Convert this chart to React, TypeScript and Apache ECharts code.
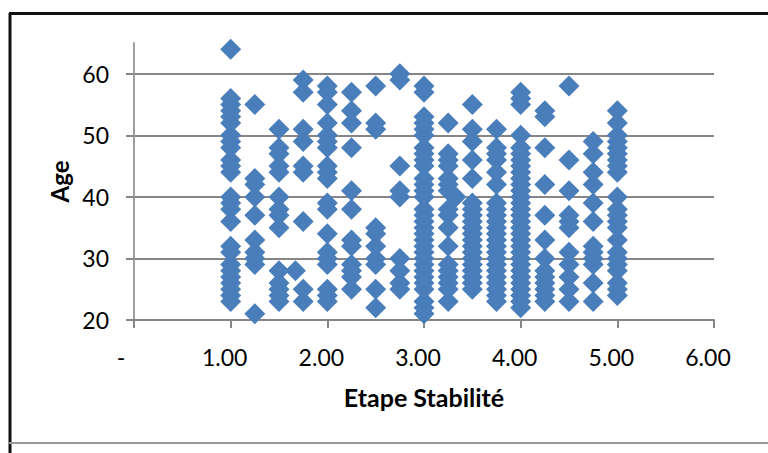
import React, { useEffect, useRef } from "react";
import * as echarts from "echarts";

const col100 = [64,56,55,54,53,52,50,49,48,46,45,44,40,39,38,36,32,31,29,28,27,26,25,24,23];
const col125 = [55,43,42,40,37,33,31,30,29,21];
const col150 = [51,48,47,45,44,40,38,37,35,28,26,25,24,23];
const col167 = [28];
const col175 = [59,57,51,49,45,44,36,25,23];
const col200 = [58,57,55,52,50,49,48,45,44,43,39,38,34,31,30,29,25,24,23];
const col225 = [57,54,52,48,41,38,33,32,29,28,27,25];
const col250 = [58,52,51,35,34,32,30,29,25,22];
const col275 = [60,59,45,41,40,30,28,26,25];
const col300 = [58,57,53,52,51,50,48,47,46,45,43,42,41,40,38,37,36,35,34,33,32,31,30,29,28,27,26,25,23,22,21];
const col325 = [52,47,46,45,43,42,41,38,37,35,32,29,28,27,26,25,23];
const col333 = [40];
const col350 = [55,51,49,46,43,39,38,37,36,35,34,33,32,31,30,29,28,27,26,25];
const col375 = [51,48,47,46,44,42,39,38,37,36,35,34,33,32,31,30,29,28,27,26,25,24,23];
const col400 = [57,56,55,50,48,47,46,45,44,43,42,41,40,39,38,37,36,35,34,33,32,31,30,29,28,27,26,25,24,23,22];
const col425 = [54,53,48,42,37,33,30,28,27,26,25,24,23];
const col450 = [58,46,41,37,36,35,31,29,27,25,23];
const col475 = [49,47,44,42,39,36,32,31,30,29,26,23];
const col500 = [54,52,50,49,48,47,46,45,44,40,38,37,36,35,33,31,30,29,28,26,25,24];
const yTicks = [20,30,40,50,60];

const columns: [number, number[]][] = [
  [1, col100],[1.25, col125],[1.5, col150],[1.67, col167],[1.75, col175],[2, col200],[2.25, col225],
  [2.5, col250],[2.75, col275],[3, col300],[3.25, col325],[3.33, col333],[3.5, col350],[3.75, col375],
  [4, col400],[4.25, col425],[4.5, col450],[4.75, col475],[5, col500],
];
const points = columns.flatMap(([x, ys]) => ys.map((y) => [x, y]));

const FONT = "Lato, 'Noto Sans', sans-serif";

export default function App() {
  const ref = useRef<HTMLDivElement>(null);
  useEffect(() => {
    const chart = echarts.init(ref.current!, null, { renderer: "svg" });
    chart.setOption({
      animation: false,
      backgroundColor: "#fff",
      grid: { left: 134, right: 54, top: 43, bottom: 133, containLabel: false },
      xAxis: {
        type: "value", min: 0, max: 6, interval: 1,
        name: "Etape Stabilité", nameLocation: "middle", nameGap: 64,
        nameTextStyle: { fontFamily: FONT, fontSize: 25, fontWeight: "bold", color: "#000" },
        axisLine: { show: true, onZero: false, lineStyle: { color: "#868686", width: 2 } },
        axisTick: { show: true, length: 8, lineStyle: { color: "#868686", width: 2 } },
        axisLabel: {
          fontFamily: FONT, fontSize: 23, color: "#000", margin: 25,
          formatter: (v: number) => (v === 0 ? "{dash|-}" : "{num|" + v.toFixed(2) + "}"),
          rich: {
            dash: { fontFamily: FONT, fontSize: 23, color: "#000", padding: [0, 26, 0, 0] },
            num: { fontFamily: FONT, fontSize: 23, color: "#000", padding: [0, 12, 0, 0] },
          },
        },
        splitLine: { show: false },
      },
      yAxis: {
        type: "value", min: 20, max: 65, interval: 10,
        name: "Age", nameLocation: "middle", nameGap: 62,
        nameTextStyle: { fontFamily: FONT, fontSize: 24, fontWeight: "bold", color: "#000" },
        axisLine: { show: true, onZero: false, lineStyle: { color: "#a0a0a0", width: 2 } },
        axisTick: { show: true, length: 8, customValues: yTicks, lineStyle: { color: "#868686", width: 2 } },
        axisLabel: { fontFamily: FONT, fontSize: 23, color: "#000", margin: 25, customValues: yTicks },
        splitLine: { show: true, lineStyle: { color: "#868686", width: 2 } },
      },
      graphic: [
        { type: "line", shape: { x1: 9, y1: 13.5, x2: 768, y2: 13.5 }, style: { stroke: "#111", lineWidth: 3 }, silent: true },
        { type: "line", shape: { x1: 10, y1: 13, x2: 10, y2: 453 }, style: { stroke: "#111", lineWidth: 3 }, silent: true },
        { type: "line", shape: { x1: 9, y1: 443, x2: 768, y2: 443 }, style: { stroke: "#999", lineWidth: 2 }, silent: true },
      ],
      series: [{
        type: "scatter", data: points, symbol: "diamond", symbolSize: 21,
        itemStyle: { color: "#4a7ebb", opacity: 1 },
      }],
    });
    return () => chart.dispose();
  }, []);
  return <div ref={ref} style={{ position: "fixed", left: 0, top: 0, width: 768, height: 453 }} />;
}
